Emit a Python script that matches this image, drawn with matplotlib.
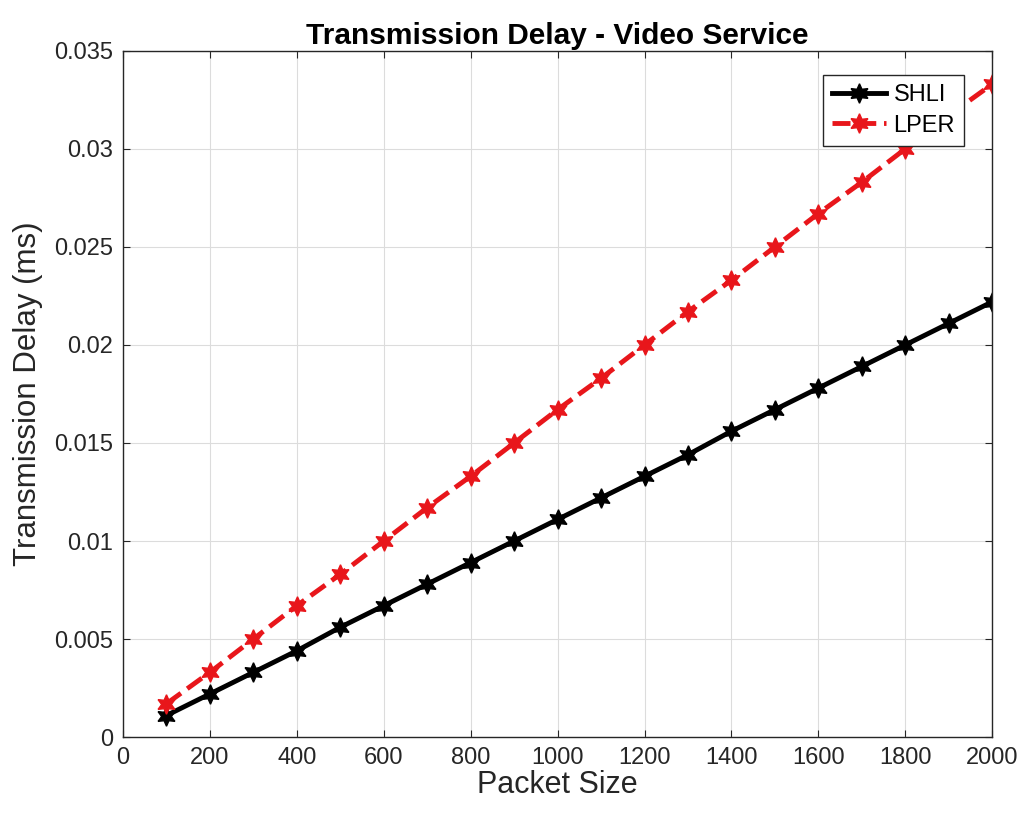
import matplotlib
matplotlib.use("Agg")
import matplotlib.pyplot as plt

plt.rcParams['font.family'] = ['Liberation Sans', 'DejaVu Sans']

# Data
packet_size = [100, 200, 300, 400, 500, 600, 700, 800, 900, 1000,
               1100, 1200, 1300, 1400, 1500, 1600, 1700, 1800, 1900, 2000]
shli = [0.0011, 0.0022, 0.0033, 0.0044, 0.0056, 0.0067, 0.0078, 0.0089, 0.0100, 0.0111,
        0.0122, 0.0133, 0.0144, 0.0156, 0.0167, 0.0178, 0.0189, 0.0200, 0.0211, 0.0222]
lper = [0.0017, 0.0033, 0.0050, 0.0067, 0.0083, 0.0100, 0.0117, 0.0133, 0.0150, 0.0167,
        0.0183, 0.0200, 0.0217, 0.0233, 0.0250, 0.0267, 0.0283, 0.0300, 0.0317, 0.0333]
xticks = list(range(0, 2001, 200))
yticks = [0, 0.005, 0.01, 0.015, 0.02, 0.025, 0.03, 0.035]
ytick_labels = ['0', '0.005', '0.01', '0.015', '0.02', '0.025', '0.03', '0.035']

fig = plt.figure(figsize=(10.24, 8.19), dpi=100)
ax = fig.add_axes([0.120, 0.100, 0.849, 0.838])

hexagram = (6, 1, 0)
ax.plot(packet_size, shli, color='black', linewidth=3.5, marker=hexagram,
        markersize=14, label='SHLI')
ax.plot(packet_size, lper, color='#e8161b', linewidth=3.5, linestyle='--',
        marker=hexagram, markersize=14, label='LPER')

ax.set_xlim(0, 2000)
ax.set_ylim(0, 0.035)
ax.set_xticks(xticks)
ax.set_yticks(yticks)
ax.set_yticklabels(ytick_labels)
ax.grid(True, color='#dcdcdc', linewidth=0.8)
ax.tick_params(direction='in', labelsize=17, colors='#262626', length=5,
               top=True, right=True, pad=7)
for s in ax.spines.values():
    s.set_color('#262626')
    s.set_linewidth(1.0)

ax.set_xlabel('Packet Size', fontsize=22, color='#262626', labelpad=1)
ax.set_ylabel('Transmission Delay (ms)', fontsize=22.5, color='#262626', labelpad=8)
ax.set_title('Transmission Delay - Video Service', fontsize=21.5, fontweight='bold', pad=5)

leg = ax.legend(loc='upper right', bbox_to_anchor=(0.968, 0.965), borderaxespad=0,
                fontsize=17, fancybox=False, edgecolor='#262626', framealpha=1,
                handlelength=2.3, borderpad=0.4, labelspacing=0.35, handletextpad=0.3)
leg.get_frame().set_linewidth(1.0)

fig.savefig('out.png', dpi=100)
